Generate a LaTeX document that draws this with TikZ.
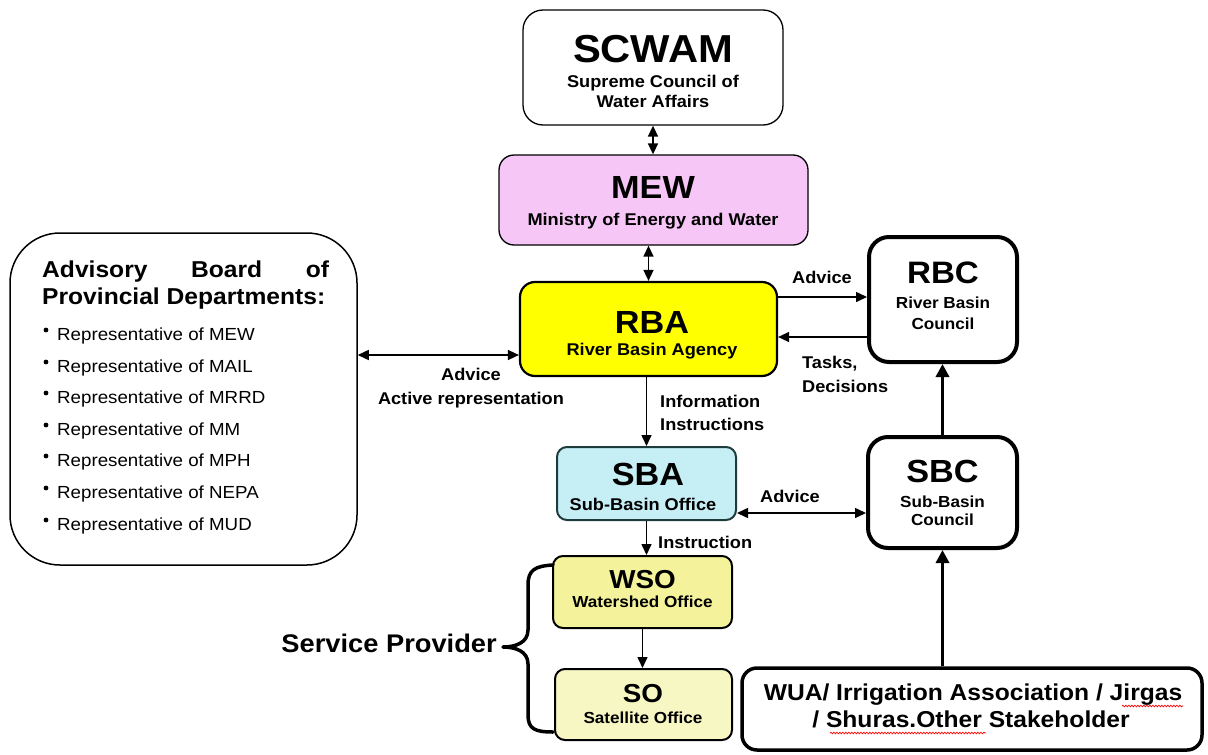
\documentclass[tikz,border=0pt]{standalone}
\usepackage{fontspec}
\setmainfont{Liberation Sans}[FakeStretch=1.07]
\usetikzlibrary{arrows.meta,decorations.pathmorphing}
\definecolor{mewpink}{RGB}{246,198,246}
\definecolor{rbayellow}{RGB}{255,255,0}
\definecolor{sbacyan}{RGB}{198,238,245}
\definecolor{sbaline}{RGB}{30,60,60}
\definecolor{wsoyellow}{RGB}{244,243,156}
\definecolor{soyellow}{RGB}{247,247,195}
\tikzset{
  bx/.style={draw, rectangle, inner sep=0pt, line width=1.3pt},
  ttl/.style={anchor=base, inner sep=0pt, font=\bfseries\fontsize{#1}{#1}\selectfont},
  ttl/.default=32,
  sub/.style={anchor=base, inner sep=0pt, font=\bfseries\fontsize{#1}{#1}\selectfont},
  sub/.default=17,
  lab/.style={inner sep=0pt, font=\bfseries\fontsize{17}{17}\selectfont},
  itm/.style={anchor=base west, inner sep=0pt, font=\fontsize{17.5}{17.5}\selectfont},
  arr/.style={-{Triangle[length=11pt,width=10pt]}, line width=1.5pt},
  dbl/.style={{Triangle[length=11pt,width=10pt]}-{Triangle[length=11pt,width=10pt]}, line width=1.5pt},
  thk/.style={-{Triangle[length=13pt,width=13pt]}, line width=3.5pt},
  squig/.style={draw=red, line width=0.7pt, decorate, decoration={snake, amplitude=0.8pt, segment length=3pt}}
}
\begin{document}
\begin{tikzpicture}[x=1pt,y=-1pt]
\useasboundingbox (0,0) rectangle (1208,755);

% boxes
\node[bx, rounded corners=20pt, minimum width=260pt, minimum height=115pt] (scwam) at (653,67.5) {};
\node[bx, fill=mewpink, rounded corners=15pt, minimum width=309pt, minimum height=90pt] (mew) at (653.5,200) {};
\node[bx, fill=rbayellow, line width=2.2pt, rounded corners=15pt, minimum width=257pt, minimum height=94pt] (rba) at (648.5,329) {};
\node[bx, line width=4pt, rounded corners=20pt, minimum width=148pt, minimum height=125pt] (rbc) at (943,299.5) {};
\node[bx, line width=1.5pt, rounded corners=50pt, minimum width=347pt, minimum height=332pt] (adv) at (183.5,399) {};
\node[bx, draw=sbaline, fill=sbacyan, line width=2pt, rounded corners=10pt, minimum width=179pt, minimum height=73pt] (sba) at (646.5,483.5) {};
\node[bx, line width=4pt, rounded corners=20pt, minimum width=149pt, minimum height=111pt] (sbc) at (942.5,492.5) {};
\node[bx, fill=wsoyellow, line width=2pt, rounded corners=10pt, minimum width=179pt, minimum height=72pt] (wso) at (642.5,592) {};
\node[bx, fill=soyellow, line width=2pt, rounded corners=10pt, minimum width=177pt, minimum height=71pt] (so) at (643.5,704.5) {};
\node[bx, line width=3.5pt, rounded corners=15pt, minimum width=460pt, minimum height=82pt] (wua) at (972,709) {};

% box texts
\node[ttl=39] (scwamT) at (653,62) {SCWAM};
\node[sub] (scwamS1) at (653,87) {Supreme Council of};
\node[sub] (scwamS2) at (653,107) {Water Affairs};
\node[ttl] (mewT) at (653,198) {MEW};
\node[sub] (mewS) at (653,225) {Ministry of Energy and Water};
\node[ttl] (rbaT) at (652,333) {RBA};
\node[sub] (rbaS) at (652,355) {River Basin Agency};
\node[ttl=31] (rbcT) at (943,283) {RBC};
\node[sub=16] (rbcS1) at (943,308) {River Basin};
\node[sub=16] (rbcS2) at (943,329) {Council};
\node[ttl] (sbaT) at (648,485) {SBA};
\node[sub] (sbaS) at (643,510) {Sub-Basin Office};
\node[ttl] (sbcT) at (942.5,482) {SBC};
\node[sub=16] (sbcS1) at (942.5,507) {Sub-Basin};
\node[sub=16] (sbcS2) at (942.5,525) {Council};
\node[ttl=26] (wsoT) at (642.5,588) {WSO};
\node[sub=16] (wsoS) at (642.5,607) {Watershed Office};
\node[ttl=26] (soT) at (643,702) {SO};
\node[sub=16] (soS) at (643,723) {Satellite Office};
\node[sub=23] (wua1) at (973,700) {WUA/ Irrigation Association / Jirgas};
\node[sub=23] (wua2) at (971,727) {/ Shuras.Other Stakeholder};
\draw[squig] (1122,706) -- (1183,706);
\draw[squig] (830,733) -- (986,733);

% advisory board
\node[anchor=base west, inner sep=0pt, font=\bfseries\fontsize{23}{23}\selectfont] (advH1) at (42,277) {\makebox[287pt][s]{Advisory Board of}};
\node[anchor=base west, inner sep=0pt, font=\bfseries\fontsize{23}{23}\selectfont] (advH2) at (42,304) {Provincial Departments:};
\foreach \n/\y/\t in {1/340/MEW, 2/372/MAIL, 3/403/MRRD, 4/435/MM, 5/466/MPH, 6/498/NEPA, 7/530/MUD}{
  \fill (46,\y-10) circle (2.4pt);
  \node[itm] (b\n) at (57,\y) {Representative of \t};
}

% service provider brace
\draw[line width=3.5pt, line cap=round, line join=round]
  (553,565) .. controls (535,566) and (528,570) .. (528,585)
  -- (528,630) .. controls (528,643) and (515,647) .. (503,647)
  .. controls (515,647) and (528,651) .. (528,664)
  -- (528,715) .. controls (528,729) and (535,732) .. (553,732);
\node[anchor=base east, inner sep=0pt, font=\bfseries\fontsize{25.5}{25.5}\selectfont] (sp) at (497,652) {Service Provider};

% connectors
\draw[dbl] (scwam.south) -- (scwam.south |- mew.north);
\draw[dbl] (rba.north |- mew.south) -- (rba.north);
\draw[arr] ([yshift=32pt]rba.east) -- ([yshift=32pt]rba.east -| rbc.west);
\draw[arr] ([yshift=-8pt]rba.east -| rbc.west) -- ([yshift=-8pt]rba.east);
\draw[dbl] ([yshift=-26pt]rba.west -| adv.east) -- ([yshift=-26pt]rba.west);
\draw[arr] (rba.south -| sba.north) -- (sba.north);
\draw[dbl] ([yshift=-29.5pt]sba.east) -- ([yshift=-29.5pt]sba.east -| sbc.west);
\draw[arr] (sba.south) -- (sba.south |- wso.north);
\draw[arr] (wso.south) -- (wso.south |- so.north);
\draw[thk] (sbc.north) -- (sbc.north |- rbc.south);
\draw[thk] (wua.north -| sbc.south) -- (sbc.south);

% connector labels
\node[lab, anchor=base] (l1) at (822,283) {Advice};
\node[lab, anchor=base west] (l2) at (802,368) {Tasks,};
\node[lab, anchor=base west] (l3) at (802,392) {Decisions};
\node[lab, anchor=base] (l4) at (471,380) {Advice};
\node[lab, anchor=base] (l5) at (471,404) {Active representation};
\node[lab, anchor=base west] (l6) at (660,407) {Information};
\node[lab, anchor=base west] (l7) at (660,430) {Instructions};
\node[lab, anchor=base] (l8) at (790,502) {Advice};
\node[lab, anchor=base west] (l9) at (658,548) {Instruction};
\end{tikzpicture}
\end{document}
